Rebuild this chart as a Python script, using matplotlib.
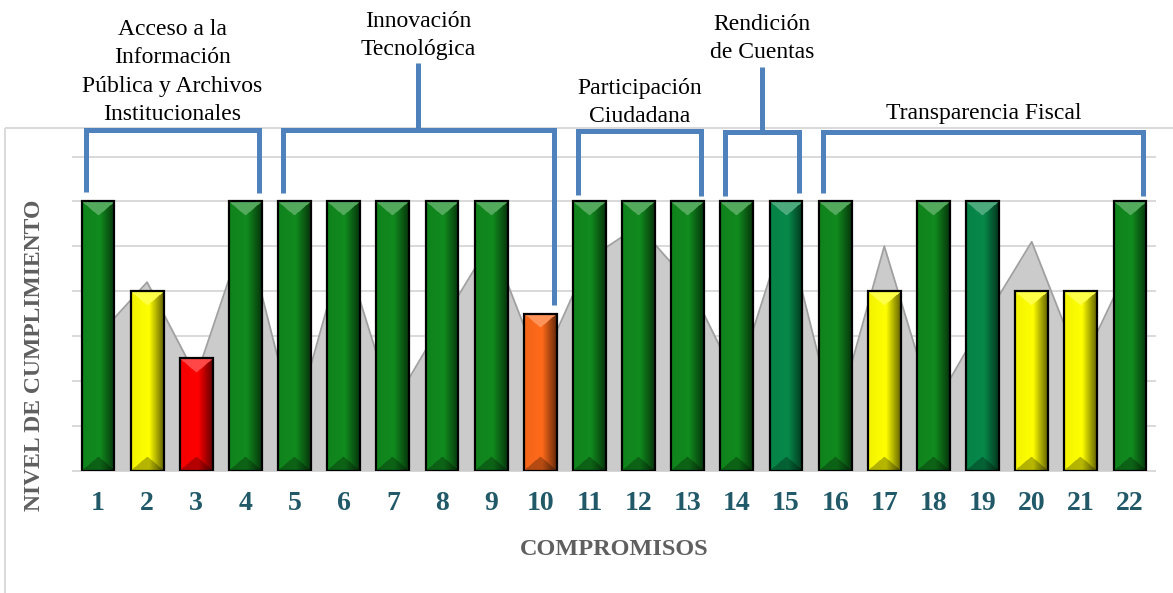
import numpy as np
import matplotlib
matplotlib.use("Agg")
import matplotlib.pyplot as plt
from matplotlib.colors import to_rgb
from matplotlib.transforms import blended_transform_factory

# ---------------- data ----------------
categories = [str(i) for i in range(1, 23)]
bar_values = [6, 4, 2.5, 6, 6, 6, 6, 6, 6, 3.5, 6, 6, 6, 6, 6, 6, 4, 6, 6, 4, 4, 6]
bar_colors = ['#118A1E', '#FFFF00', '#FF0000', '#118A1E', '#118A1E', '#118A1E',
              '#118A1E', '#118A1E', '#118A1E', '#FF6A1A', '#118A1E', '#118A1E',
              '#118A1E', '#118A1E', '#07894A', '#118A1E', '#FFFF00', '#118A1E',
              '#07894A', '#FFFF00', '#FFFF00', '#118A1E']
area_values = [3.0, 4.2, 2.1, 5.35, 1.05, 4.95, 1.45, 3.3, 5.1, 2.3, 4.73,
               5.45, 4.22, 2.0, 5.43, 1.07, 5.0, 1.4, 3.3, 5.1, 2.32, 4.62]
y_ticks = list(range(0, 8))
group_labels = ["Acceso a la\nInformación\nPública y Archivos\nInstitucionales",
                "Innovación\nTecnológica",
                "Participación\nCiudadana",
                "Rendición\nde Cuentas",
                "Transparencia Fiscal"]
group_first = [1, 5, 11, 14, 16]
group_last = [4, 10, 13, 15, 22]

# ---------------- style ----------------
W, H = 1173, 593
SERIF = ['Liberation Serif', 'DejaVu Serif']
BLUE = '#4F81BD'
GRID = '#D9D9D9'

fig = plt.figure(figsize=(W / 100, H / 100), dpi=100)
ax_left, ax_right = 73.4, 1154.6
ax_top, ax_bot = 156.5, 470.7
ax = fig.add_axes([ax_left / W, (H - ax_bot) / H, (ax_right - ax_left) / W, (ax_bot - ax_top) / H])
ax.patch.set_alpha(0)

x = np.arange(1, len(categories) + 1)

# gridlines
for t in y_ticks:
    ax.axhline(t, color=GRID, lw=1.4, zorder=0, clip_on=False)

# background area series
ax.fill_between(x, area_values, 0, color='#CBCBCB', lw=0, zorder=1)
ax.plot(x, area_values, color='#A0A0A0', lw=1.3, zorder=1.5)

# bars with bevel-like shading
bw = 0.67
bars = ax.bar(x, bar_values, width=bw, color=bar_colors, edgecolor='none', zorder=2)
px_per_unit = (ax_bot - ax_top) / 7.0
bevel_px = 14
ncols = 60
u = (np.arange(ncols) + 0.5) / ncols
fh = np.where(u < 0.55, 1.0 - 0.05 * (0.55 - u) / 0.55, 1.0 - (u - 0.55) / 0.45 * 0.62)
tri = 1 - np.abs(2 * u - 1)
for b, val, col in zip(bars, bar_values, bar_colors):
    base = np.array(to_rgb(col))
    nrows = max(int(round(val * px_per_unit)), 2)
    img = np.ones((nrows, ncols, 3)) * base[None, None, :] * fh[None, :, None]
    rows = np.arange(nrows)[:, None]
    top_mask = rows < bevel_px * tri[None, :]
    bot_mask = (nrows - 1 - rows) < bevel_px * tri[None, :]
    light = base * 0.72 + 0.28
    img[top_mask] = (np.ones((nrows, ncols, 3)) * light)[top_mask]
    img[bot_mask] = (img * 0.72)[bot_mask]
    x0 = b.get_x()
    im = ax.imshow(img, extent=[x0, x0 + bw, 0, val], origin='upper',
                   aspect='auto', zorder=2.5, interpolation='bilinear')
    im.set_clip_path(b)
ax.bar(x, bar_values, width=bw, facecolor='none', edgecolor='black', lw=1.6, zorder=3)

ax.set_xlim(0.5, len(categories) + 0.5)
ax.set_ylim(0, 7)
ax.set_xticks(x)
ax.set_xticklabels(categories, fontsize=20, fontweight='bold', color='#215968', family=SERIF)
ax.set_yticks(y_ticks)
ax.set_yticklabels([])
ax.tick_params(length=0)
ax.tick_params(axis='x', pad=14.5)
for s in ax.spines.values():
    s.set_visible(False)

ax.set_xlabel('COMPROMISOS', fontsize=17.5, fontweight='bold', color='#5F5F5F', family=SERIF)
ax.xaxis.label.set_va('baseline')
ax.xaxis.set_label_coords(0.5, (ax_bot - 555) / (ax_bot - ax_top))
ax.set_ylabel('NIVEL DE CUMPLIMIENTO', fontsize=17, fontweight='bold', color='#5F5F5F', family=SERIF)
ax.yaxis.label.set_va('center')
ax.yaxis.set_label_coords((35 - ax_left) / (ax_right - ax_left), (ax_bot - 355.5) / (ax_bot - ax_top))

# ---------------- overlay (pixel coords) ----------------
ov = fig.add_axes([0, 0, 1, 1], zorder=5)
ov.set_xlim(0, W)
ov.set_ylim(H, 0)
ov.axis('off')
ov.patch.set_alpha(0)

# chart-area border
ov.plot([5, W + 5], [128, 128], color=GRID, lw=1.4, solid_capstyle='butt')
ov.plot([5, 5], [128, H + 5], color=GRID, lw=1.4, solid_capstyle='butt')

tr = blended_transform_factory(ax.transData, ov.transData)
bracket_top = [130, 130, 131, 132, 132]
left_bottom = [192, 193, 195, 196, 193]
right_bottom = [193, 305, 196, 193, 196]
stem_top = [None, 63, None, 67, None]
last_baseline = [120, 55, 122, 58, 119]
line_step = 28.3
for i, lab in enumerate(group_labels):
    xl = group_first[i] - 0.24
    xr = group_last[i] + 0.27
    ov.plot([xl, xl, xr, xr], [left_bottom[i], bracket_top[i], bracket_top[i], right_bottom[i]],
            color=BLUE, lw=3.6, transform=tr, solid_joinstyle='miter', solid_capstyle='butt')
    xc = (xl + xr) / 2
    if stem_top[i] is not None:
        ov.plot([xc, xc], [bracket_top[i], stem_top[i]], color=BLUE, lw=3.6,
                transform=tr, solid_capstyle='butt')
    lines = lab.split('\n')
    n = len(lines)
    for j, ln in enumerate(lines):
        ov.text(xc, last_baseline[i] - (n - 1 - j) * line_step, ln, transform=tr,
                ha='center', va='baseline', fontsize=17, color='black', family=SERIF)

fig.savefig('out.png', dpi=100, facecolor='white')
